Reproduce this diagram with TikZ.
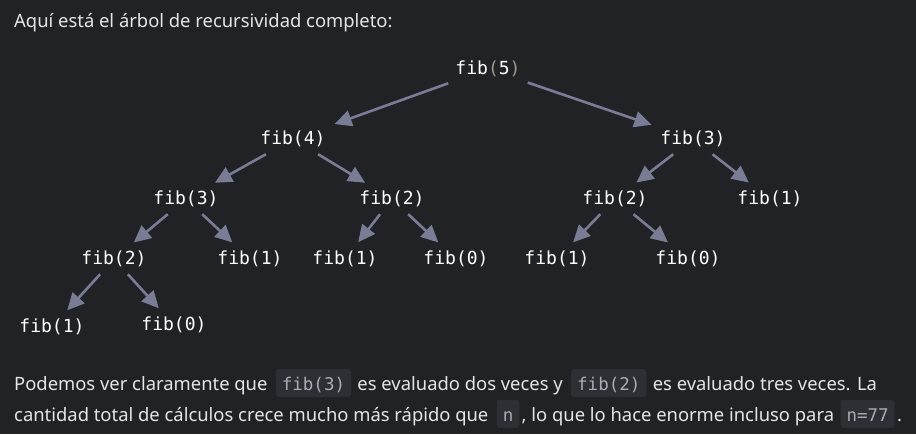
\documentclass[tikz,border=0pt]{standalone}
\usepackage{fontspec}
\setmainfont{Noto Sans}
\setmonofont{DejaVu Sans Mono}
\usetikzlibrary{arrows.meta,positioning}
\definecolor{bgcol}{HTML}{212226}
\definecolor{txtcol}{HTML}{E4E5E7}
\definecolor{edgecol}{HTML}{7A7C95}
\definecolor{codebg}{HTML}{2D2F34}
\definecolor{codetxt}{HTML}{A8ACB3}
\definecolor{parcol}{HTML}{A39888}
\tikzset{
  call/.style={inner sep=7pt, text=white, font=\fontsize{18}{18}\selectfont\ttfamily},
  edge/.style={draw=edgecol, line width=2.6pt, -{Triangle[length=17pt,width=16pt]}, shorten >=2pt},
  prose/.style={inner sep=0pt, text=txtcol, font=\fontsize{18.4}{18.4}\selectfont, anchor=base west},
  code/.style={inner xsep=6pt, inner ysep=0pt, text height=21pt, text depth=7pt,
    fill=codebg, rounded corners=3pt, text=codetxt, anchor=base west,
    font=\fontsize{17.5}{17.5}\selectfont\ttfamily}
}
\begin{document}
\begin{tikzpicture}[x=1pt,y=-1pt]
  \fill[bgcol] (0,0) rectangle (916,434);
  \node[prose] (title) at (14,27) {Aquí está el árbol de recursividad completo:};

  % the calls
  \node[call] (f5) at (488,69) {fib\textcolor{parcol}{(}5\textcolor{parcol}{)}};
  \node[call] (f4) at (293,139) {fib(4)};
  \node[call] (f3r) at (693,139) {fib(3)};
  \node[call] (f3l) at (186,199) {fib(3)};
  \node[call] (f2m) at (392,199) {fib(2)};
  \node[call] (f2r) at (615,199) {fib(2)};
  \node[call] (f1r) at (770,199) {fib(1)};
  \node[call] (f2l) at (114,259) {fib(2)};
  \node[call] (f1a) at (250,259) {fib(1)};
  \node[call] (f1b) at (345,259) {fib(1)};
  \node[call] (f0a) at (456,259) {fib(0)};
  \node[call] (f1c) at (557,259) {fib(1)};
  \node[call] (f0b) at (688,259) {fib(0)};
  \node[call] (f1d) at (52,327) {fib(1)};
  \node[call] (f0c) at (174,325) {fib(0)};

  \draw[edge] (f5) -- (f4);
  \draw[edge] (f5) -- (f3r);
  \draw[edge] (f4) -- (f3l);
  \draw[edge] (f4) -- (f2m);
  \draw[edge] (f3r) -- (f2r);
  \draw[edge] (f3r) -- (f1r);
  \draw[edge] (f3l) -- (f2l);
  \draw[edge] (f3l) -- (f1a);
  \draw[edge] (f2m) -- (f1b);
  \draw[edge] (f2m) -- (f0a);
  \draw[edge] (f2r) -- (f1c);
  \draw[edge] (f2r) -- (f0b);
  \draw[edge] (f2l) -- (f1d);
  \draw[edge] (f2l) -- (f0c);

  % closing paragraph
  \node[prose] (la) at (14,390) {Podemos ver claramente que};
  \node[code, xshift=8pt] (lb) at (la.base east) {fib(3)};
  \node[prose, xshift=6pt] (lc) at (lb.base east) {es evaluado dos veces y};
  \node[code, xshift=8pt] (ld) at (lc.base east) {fib(2)};
  \node[prose, xshift=6pt] (le) at (ld.base east) {es evaluado tres veces. La};
  \node[prose] (ma) at (14,421) {cantidad total de cálculos crece mucho más rápido que};
  \node[code, xshift=8pt] (mb) at (ma.base east) {n};
  \node[prose, xshift=2pt] (mc) at (mb.base east) {, lo que lo hace enorme incluso para};
  \node[code, xshift=6pt] (md) at (mc.base east) {n=77};
  \node[prose, xshift=2pt] (me) at (md.base east) {.};
\end{tikzpicture}
\end{document}
